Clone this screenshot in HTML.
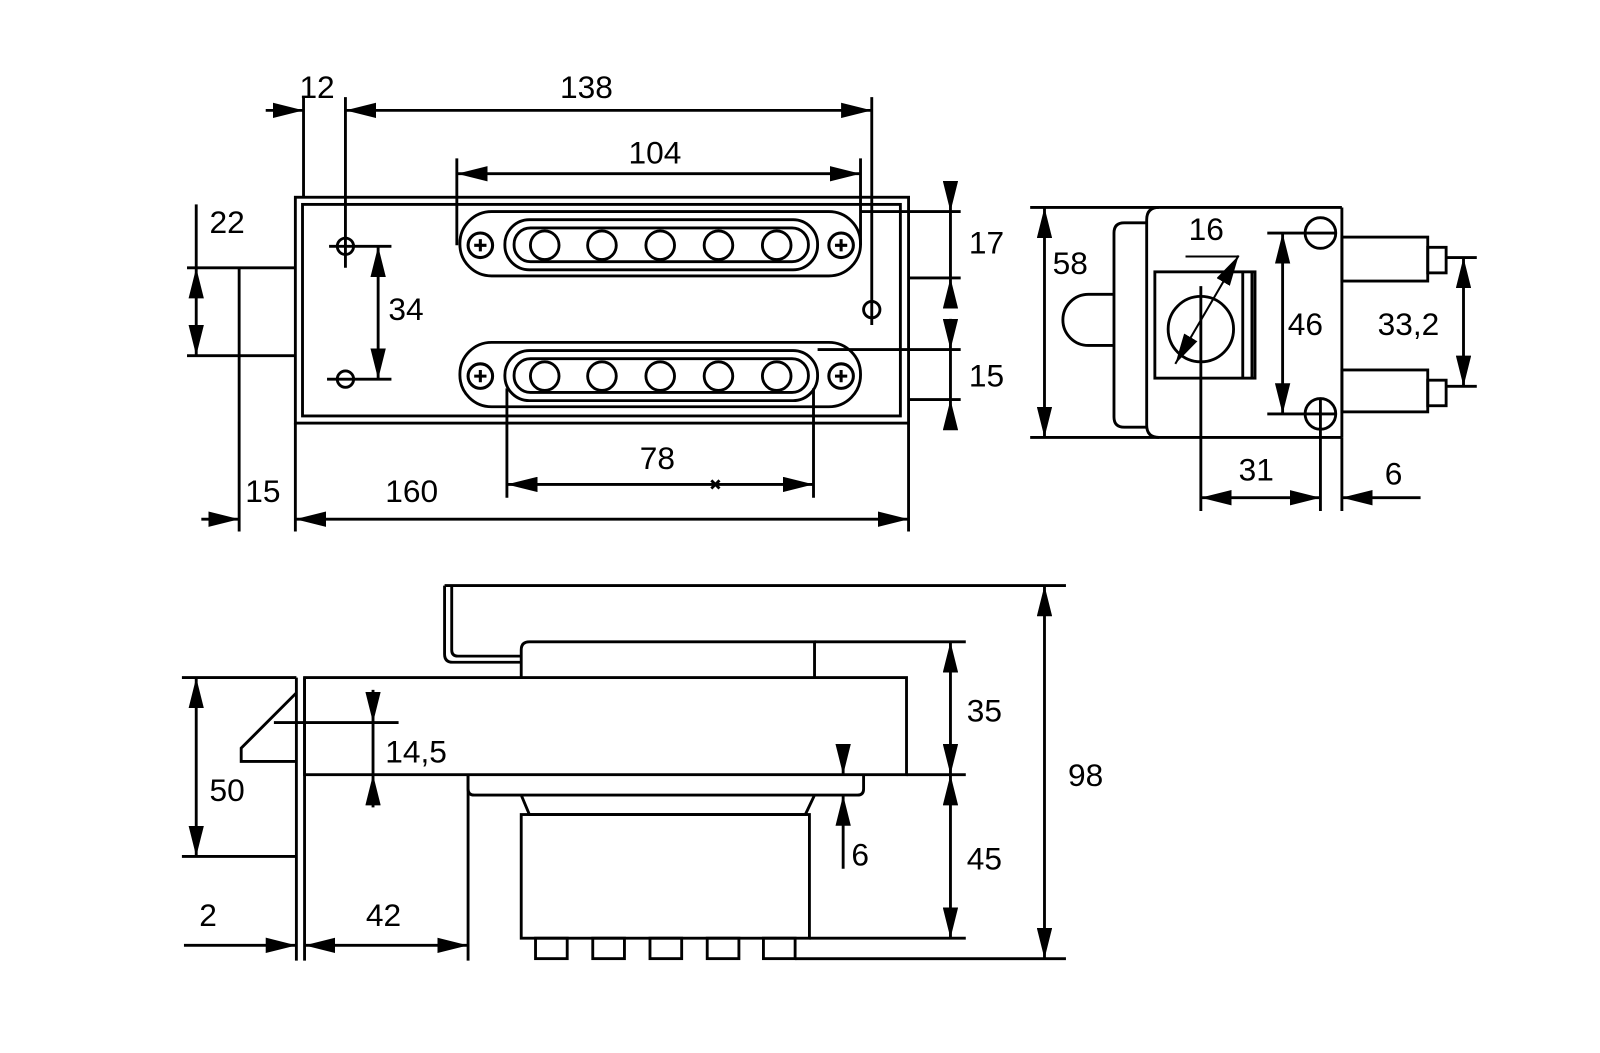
<!DOCTYPE html>
<html><head><meta charset="utf-8"><style>
html,body{margin:0;padding:0;background:#fff;}
svg{display:block;}
text{font-family:"Liberation Sans",sans-serif;font-size:31px;fill:#000;}
</style></head><body>
<svg width="1600" height="1053" viewBox="0 0 1600 1053" xmlns="http://www.w3.org/2000/svg">
<defs>
<marker id="a" viewBox="0 0 30 15" refX="30" refY="7.5" markerWidth="30" markerHeight="15" markerUnits="userSpaceOnUse" orient="auto-start-reverse">
<path d="M0,0 L30,7.5 L0,15 Z" fill="#000"/>
</marker>
</defs>
<g transform="scale(1.022)" stroke="#000" stroke-width="2.8" fill="none">
<!-- ===== TOP VIEW ===== -->
<rect x="289" y="193" width="600" height="221"/>
<rect x="296" y="200" width="585" height="207"/>
<line x1="183" y1="262" x2="289" y2="262"/>
<line x1="183" y1="348" x2="289" y2="348"/>
<line x1="234" y1="262" x2="234" y2="520"/>
<line x1="192" y1="200" x2="192" y2="262"/>
<line x1="192" y1="290" x2="192" y2="262" marker-end="url(#a)"/>
<line x1="192" y1="320" x2="192" y2="348" marker-end="url(#a)"/>
<line x1="192" y1="290" x2="192" y2="320"/>
<line x1="297" y1="95" x2="297" y2="193"/>
<line x1="338" y1="95" x2="338" y2="262"/>
<line x1="853" y1="95" x2="853" y2="318"/>
<line x1="260" y1="108" x2="297" y2="108" marker-end="url(#a)"/>
<line x1="338" y1="108" x2="853" y2="108" marker-start="url(#a)" marker-end="url(#a)"/>
<line x1="447" y1="155" x2="447" y2="240"/>
<line x1="842" y1="155" x2="842" y2="240"/>
<line x1="447" y1="170" x2="842" y2="170" marker-start="url(#a)" marker-end="url(#a)"/>
<g id="slot">
<rect x="450" y="207" width="392" height="63" rx="31"/>
<rect x="494" y="215" width="306" height="49" rx="24"/>
<rect x="503" y="223" width="288" height="33" rx="16"/>
<circle cx="533" cy="240" r="14"/><circle cx="589" cy="240" r="14"/><circle cx="646" cy="240" r="14"/><circle cx="703" cy="240" r="14"/><circle cx="760" cy="240" r="14"/>
<circle cx="470" cy="240" r="12" stroke-width="3"/><path d="M464,240H476M470,234V246" stroke-width="3"/>
<circle cx="823" cy="240" r="12" stroke-width="3"/><path d="M817,240H829M823,234V246" stroke-width="3"/>
</g>
<use href="#slot" transform="translate(0,128)"/>
<circle cx="338" cy="241" r="8"/><line x1="322" y1="241" x2="383" y2="241"/>
<circle cx="338" cy="371" r="8"/><line x1="320" y1="371" x2="383" y2="371"/>
<line x1="370" y1="241" x2="370" y2="371" marker-start="url(#a)" marker-end="url(#a)"/>
<circle cx="853" cy="303" r="8"/>
<line x1="842" y1="207" x2="940" y2="207"/>
<line x1="889" y1="272" x2="940" y2="272"/>
<line x1="800" y1="342" x2="940" y2="342"/>
<line x1="889" y1="391" x2="940" y2="391"/>
<line x1="930" y1="178" x2="930" y2="207" marker-end="url(#a)"/>
<line x1="930" y1="207" x2="930" y2="272"/>
<line x1="930" y1="300" x2="930" y2="272" marker-end="url(#a)"/>
<line x1="930" y1="312" x2="930" y2="342" marker-end="url(#a)"/>
<line x1="930" y1="342" x2="930" y2="391"/>
<line x1="930" y1="420" x2="930" y2="391" marker-end="url(#a)"/>
<line x1="496" y1="380" x2="496" y2="487"/>
<line x1="796" y1="380" x2="796" y2="487"/>
<line x1="496" y1="474" x2="796" y2="474" marker-start="url(#a)" marker-end="url(#a)"/>
<path d="M696,470L704,478M704,470L696,478"/>
<line x1="289" y1="414" x2="289" y2="520"/>
<line x1="889" y1="414" x2="889" y2="520"/>
<line x1="197" y1="508" x2="234" y2="508" marker-end="url(#a)"/>
<line x1="289" y1="508" x2="889" y2="508" marker-start="url(#a)" marker-end="url(#a)"/>

<!-- ===== SIDE VIEW ===== -->
<line x1="1008" y1="203" x2="1313" y2="203"/>
<line x1="1008" y1="428" x2="1313" y2="428"/>
<path d="M1313,203V428M1122,215Q1122,203 1134,203M1122,416Q1122,428 1134,428M1122,215V416"/>
<path d="M1122,218H1100Q1090,218 1090,228V408Q1090,418 1100,418H1122"/>
<path d="M1090,288H1065A25,25 0 0 0 1065,338H1090"/>
<rect x="1130" y="266" width="98" height="104"/>
<line x1="1216" y1="266" x2="1216" y2="370"/>
<line x1="1225" y1="266" x2="1225" y2="370"/>
<circle cx="1175" cy="322" r="32"/>
<line x1="1175" y1="280" x2="1175" y2="500"/>
<line x1="1150" y1="356" x2="1212" y2="250" marker-start="url(#a)" marker-end="url(#a)" stroke-width="2"/>
<line x1="1160" y1="251" x2="1212" y2="251" stroke-width="2"/>
<circle cx="1292" cy="228" r="15"/><line x1="1240" y1="228" x2="1307" y2="228"/>
<circle cx="1292" cy="405" r="15"/><line x1="1240" y1="405" x2="1307" y2="405"/>
<line x1="1292" y1="390" x2="1292" y2="500"/>
<line x1="1313" y1="428" x2="1313" y2="500"/>
<rect x="1313" y="232" width="84" height="43"/>
<rect x="1397" y="242" width="18" height="25"/>
<rect x="1313" y="362" width="84" height="41"/>
<rect x="1397" y="372" width="18" height="25"/>
<line x1="1255" y1="228" x2="1255" y2="405" marker-start="url(#a)" marker-end="url(#a)"/>
<line x1="1415" y1="252" x2="1445" y2="252"/>
<line x1="1415" y1="378" x2="1445" y2="378"/>
<line x1="1432" y1="252" x2="1432" y2="378" marker-start="url(#a)" marker-end="url(#a)"/>
<line x1="1022" y1="203" x2="1022" y2="428" marker-start="url(#a)" marker-end="url(#a)"/>
<line x1="1175" y1="487" x2="1292" y2="487" marker-start="url(#a)" marker-end="url(#a)"/>
<line x1="1390" y1="487" x2="1313" y2="487" marker-end="url(#a)"/>

<!-- ===== BOTTOM VIEW ===== -->
<line x1="435" y1="573" x2="1043" y2="573"/>
<path d="M435,573V640Q435,648 443,648H510M442,573V636Q442,642 448,642H510"/>
<path d="M510,663V636Q510,628 518,628H797V663"/>
<line x1="797" y1="628" x2="945" y2="628"/>
<rect x="298" y="663" width="589" height="95"/>
<line x1="290" y1="663" x2="290" y2="940"/>
<line x1="298" y1="663" x2="298" y2="940"/>
<path d="M290,678L236,732V745H290"/>
<line x1="178" y1="663" x2="290" y2="663"/>
<line x1="178" y1="838" x2="290" y2="838"/>
<line x1="192" y1="663" x2="192" y2="838" marker-start="url(#a)" marker-end="url(#a)"/>
<line x1="268" y1="707" x2="390" y2="707"/>
<line x1="365" y1="675" x2="365" y2="707" marker-end="url(#a)"/>
<line x1="365" y1="790" x2="365" y2="758" marker-end="url(#a)"/>
<line x1="365" y1="707" x2="365" y2="758"/>
<path d="M458,758V772Q458,778 464,778H839Q845,778 845,772V758"/>
<line x1="458" y1="758" x2="458" y2="940"/>
<path d="M510,778L518,797H788L797,778"/>
<rect x="510" y="797" width="282" height="121"/>
<rect x="524" y="918" width="31" height="20"/><rect x="580" y="918" width="31" height="20"/><rect x="636" y="918" width="31" height="20"/><rect x="692" y="918" width="31" height="20"/><rect x="747" y="918" width="31" height="20"/>
<line x1="825" y1="728" x2="825" y2="758" marker-end="url(#a)"/>
<line x1="825" y1="850" x2="825" y2="778" marker-end="url(#a)"/>
<line x1="887" y1="758" x2="945" y2="758"/>
<line x1="792" y1="918" x2="945" y2="918"/>
<line x1="930" y1="628" x2="930" y2="758" marker-start="url(#a)" marker-end="url(#a)"/>
<line x1="930" y1="758" x2="930" y2="918" marker-start="url(#a)" marker-end="url(#a)"/>
<line x1="778" y1="938" x2="1043" y2="938"/>
<line x1="1022" y1="573" x2="1022" y2="938" marker-start="url(#a)" marker-end="url(#a)"/>
<line x1="180" y1="925" x2="290" y2="925" marker-end="url(#a)"/>
<line x1="298" y1="925" x2="458" y2="925" marker-start="url(#a)" marker-end="url(#a)"/>

<g stroke="none">
<text x="293" y="96">12</text>
<text x="548" y="96">138</text>
<text x="615" y="160">104</text>
<text x="205" y="228">22</text>
<text x="380" y="313">34</text>
<text x="948" y="248">17</text>
<text x="948" y="378">15</text>
<text x="626" y="459">78</text>
<text x="240" y="491">15</text>
<text x="377" y="491">160</text>
<text x="1030" y="268">58</text>
<text x="1163" y="235">16</text>
<text x="1260" y="328">46</text>
<text x="1348" y="328">33,2</text>
<text x="1212" y="470">31</text>
<text x="1355" y="474">6</text>
<text x="205" y="784">50</text>
<text x="377" y="746">14,5</text>
<text x="833" y="847">6</text>
<text x="946" y="706">35</text>
<text x="946" y="851">45</text>
<text x="1045" y="769">98</text>
<text x="195" y="906">2</text>
<text x="358" y="906">42</text>
</g>
</g>
</svg>
</body></html>
